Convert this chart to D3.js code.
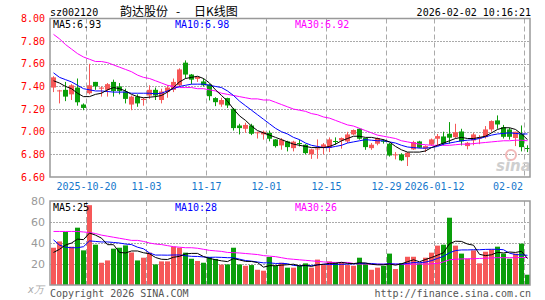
<!DOCTYPE html>
<html>
<head>
<meta charset="utf-8">
<script src="https://cdn.jsdelivr.net/npm/d3@7"></script>
<style>
  body { margin: 0; background: #fff; }
  svg { display: block; }
  text { font-family: 'DejaVu Sans Mono', monospace; font-size: 10px; }
</style>
</head>
<body>
<svg width="545" height="300"></svg>
<script>
// daily K line, 2025-10-10 .. 2026-02-02 (80 sessions)
const open = [7.39,7.36,7.37,7.33,7.39,7.24,7.34,7.44,7.38,7.37,
  7.44,7.40,7.355,7.24,7.31,7.28,7.32,7.37,7.28,7.35,
  7.37,7.41,7.61,7.505,7.467,7.444,7.417,7.297,7.24,7.297,
  7.202,7.055,7.026,7.055,6.99,6.976,6.99,6.932,6.879,6.914,
  6.855,6.90,6.885,6.80,6.848,6.858,6.858,6.918,6.923,6.914,
  6.976,7.026,6.944,6.855,6.894,6.92,6.894,6.795,6.80,6.776,
  6.844,6.914,6.85,6.885,6.938,6.958,6.982,6.952,7.002,6.873,
  6.923,6.94,6.952,7.02,7.10,7.04,7.02,6.944,6.982,6.856]
const high = [7.49,7.37,7.44,7.42,7.47,7.25,7.60,7.44,7.40,7.43,
  7.46,7.43,7.38,7.32,7.33,7.30,7.41,7.39,7.38,7.41,
  7.47,7.56,7.63,7.51,7.485,7.47,7.42,7.305,7.30,7.30,
  7.21,7.07,7.08,7.07,7.00,7.01,7.01,6.935,6.944,6.92,
  6.92,6.93,6.89,6.85,6.932,6.90,6.95,6.95,6.95,6.999,
  7.02,7.03,6.945,6.90,6.95,6.935,6.90,6.82,6.81,6.82,
  6.92,6.92,6.88,6.94,6.98,7.00,7.085,7.07,7.026,6.91,
  6.99,6.97,7.05,7.10,7.144,7.06,7.035,7.00,7.055,6.88]
const low = [7.35,7.25,7.27,7.28,7.23,7.19,7.33,7.37,7.31,7.31,
  7.31,7.33,7.25,7.19,7.22,7.23,7.29,7.28,7.25,7.30,
  7.35,7.40,7.47,7.42,7.44,7.40,7.276,7.226,7.22,7.21,
  7.01,6.976,6.99,6.97,6.94,6.93,6.915,6.86,6.841,6.826,
  6.826,6.87,6.80,6.76,6.761,6.80,6.82,6.885,6.85,6.90,
  6.97,6.93,6.84,6.84,6.88,6.895,6.78,6.756,6.74,6.697,
  6.84,6.855,6.82,6.875,6.879,6.879,6.894,6.94,6.879,6.844,
  6.88,6.89,6.94,7.00,7.026,6.94,6.93,6.873,6.826,6.82]
const close = [7.48,7.365,7.31,7.41,7.26,7.21,7.41,7.40,7.39,7.42,
  7.36,7.36,7.29,7.31,7.25,7.29,7.37,7.32,7.355,7.39,
  7.44,7.55,7.505,7.46,7.485,7.41,7.314,7.261,7.28,7.232,
  7.032,7.032,7.06,6.982,6.995,6.999,6.938,6.873,6.929,6.864,
  6.912,6.895,6.811,6.844,6.852,6.888,6.932,6.912,6.944,6.976,
  7.015,6.938,6.864,6.885,6.944,6.915,6.79,6.80,6.747,6.815,
  6.909,6.858,6.873,6.932,6.961,6.894,6.947,6.996,6.914,6.902,
  6.976,6.952,7.02,7.094,7.064,6.955,6.955,7.00,6.864,6.85]
// volume, 万手
const vol = [35.5,41.5,50.5,36.5,54.6,33,76,38.4,21.2,23.4,
  34.6,35.5,37.7,31,23.4,26,30.8,19.6,22.5,22.5,
  36.5,35.5,30.8,25,22.9,21.2,26.7,24.8,19.4,19.6,
  35.5,19.6,18.3,19,14.5,13.6,26.7,18.3,21.2,16.5,
  16.5,18.3,20.6,16.5,24.2,19,22.5,21.2,21.2,19,
  18.3,26,20.6,14.5,16.5,18.3,29.9,15.2,20.9,26.9,
  26.9,20.6,26,30.8,37.5,38.4,64.1,37.5,29.9,25,
  33,20.6,31.7,33.9,36.5,29.9,25,29.9,39.4,9.8]

// moving averages as drawn on the chart
const ma5 = [7.45,7.43,7.40,7.38,7.34,7.31,7.31,7.33,7.34,7.37,
  7.39,7.38,7.36,7.33,7.31,7.30,7.305,7.31,7.32,7.35,
  7.39,7.44,7.47,7.48,7.49,7.47,7.43,7.37,7.32,7.27,
  7.20,7.14,7.10,7.05,7.01,6.99,6.97,6.95,6.93,6.91,
  6.89,6.88,6.87,6.86,6.86,6.86,6.87,6.89,6.92,6.94,
  6.96,6.96,6.95,6.95,6.94,6.93,6.91,6.87,6.84,6.82,
  6.82,6.82,6.83,6.86,6.88,6.90,6.92,6.94,6.95,6.94,
  6.94,6.95,6.96,6.99,7.02,7.035,7.035,7.02,6.98,6.93]
const ma10 = [7.52,7.48,7.46,7.44,7.41,7.38,7.37,7.36,7.36,7.355,
  7.35,7.35,7.35,7.34,7.34,7.34,7.34,7.335,7.34,7.36,
  7.38,7.40,7.41,7.42,7.42,7.42,7.41,7.40,7.39,7.36,
  7.32,7.27,7.23,7.19,7.15,7.11,7.07,7.03,7.00,6.98,
  6.95,6.93,6.90,6.88,6.87,6.86,6.86,6.87,6.88,6.90,
  6.91,6.92,6.93,6.925,6.92,6.92,6.91,6.90,6.88,6.865,
  6.86,6.855,6.855,6.86,6.87,6.89,6.90,6.91,6.92,6.925,
  6.93,6.94,6.955,6.97,6.98,6.985,6.99,6.985,6.98,6.98]
const ma30 = [7.86,7.82,7.77,7.73,7.69,7.66,7.64,7.62,7.62,7.61,
  7.59,7.57,7.55,7.53,7.50,7.48,7.47,7.45,7.43,7.41,
  7.40,7.39,7.39,7.39,7.38,7.38,7.37,7.36,7.34,7.33,
  7.32,7.31,7.30,7.29,7.29,7.28,7.28,7.26,7.24,7.22,
  7.20,7.19,7.18,7.16,7.15,7.13,7.12,7.10,7.08,7.06,
  7.05,7.03,7.01,6.99,6.97,6.96,6.95,6.94,6.92,6.91,
  6.90,6.89,6.885,6.88,6.88,6.88,6.88,6.885,6.89,6.89,
  6.895,6.90,6.905,6.91,6.915,6.92,6.92,6.925,6.925,6.92]
const vma5 = [31,34,38,40,43.7,43.2,49.5,47.5,44.6,38.4,
  38.4,31,30.5,32.4,32.4,30.7,29.8,26.2,24.5,24.3,
  26.4,27.3,29.6,30.1,30.1,27.1,25.3,24.1,23,22.3,
  25.2,23.8,22.5,22.4,21.4,17,18.4,18.4,18.9,19.3,
  19.8,18.2,18.6,17.7,19.2,19.7,20.6,20.7,21.6,20.6,
  20.4,21.1,21,19.7,19.2,19.2,20,18.9,20.2,22.2,
  24,22.1,24.3,26.2,28.4,30.7,39.4,41.7,41.5,39,
  37.9,29.2,28,28.8,31.1,30.5,31.4,31,32.1,25.2]
const vma10 = [43,38,36,35.5,35.5,36.5,42,41.5,41,41,
  40.5,40,39,38.5,36,34.5,30.5,28.5,28.5,28.4,
  28.6,28.6,27.9,27.3,27.2,26.7,26.3,26.5,26.3,26,
  26,24.6,23.3,22.7,21.9,21.1,21.1,20.5,20.6,20.3,
  18.6,18.3,18.5,18.5,19.2,19.8,19.5,19.7,19.7,19.9,
  20.1,20.6,20.6,20.5,19.9,19.8,20.3,20,19.9,20.5,
  21.4,21.2,21.8,23.2,25.3,27.3,30.7,32.8,33.4,33.4,
  33.6,33.6,33.9,34,34,33.6,30.3,29,28.7,28.3]
const vma30 = [51,51,51,51,51,50.5,50,49,47.5,46.5,
  45.5,44.5,43.5,42.5,42.5,41.5,40,39,38.5,37.5,
  36.5,36,35.5,35.5,35,34,33,32.5,32,31,
  30.8,30.5,30,29.5,29,28,27.5,27,26,25,
  24.5,24,23.5,23,22.5,22,21.5,21.5,21.5,21.5,
  20.5,20,20,19.8,19.8,19.8,19.8,19.8,19.8,19.8,
  19.8,20,20,20.2,20.5,22,24,24.5,24.8,25,
  25,25.3,25.5,25.8,26,26,26,26,26.2,26.2]

const priceTicks = [6.6, 6.8, 7.0, 7.2, 7.4, 7.6, 7.8, 8.0]
const volTicks = [20, 40, 60, 80]
const dateIdx = [6, 16, 26, 36, 46, 56, 64, 79]
const dateLabels = ['2025-10-20', '11-03', '11-17', '12-01', '12-15', '12-29', '2026-01-12', '02-02']

const RED = '#f65858', GREEN = '#0a9e0a', GRID = '#aaa'

const svg = d3.select('svg')
const left = 50, right = 530
const pTop = 18.5, pBot = 177, vTop = 201, vBot = 285

const x = d3.scaleBand().domain(d3.range(close.length)).range([left, right])
const yP = d3.scaleLinear().domain([6.6, 8.0]).range([pBot, pTop])
const yV = d3.scaleLinear().domain([0, 80]).range([vBot, vTop])
const cx = i => x(i) + 3.5
const crisp = v => Math.round(v) + 0.5

//#region grid
svg.append('g').selectAll('line')
  .data(priceTicks.slice(1, -1))
  .join('line')
  .attr('x1', left).attr('x2', right)
  .attr('y1', d => crisp(yP(d))).attr('y2', d => crisp(yP(d)))
  .attr('stroke', GRID).attr('stroke-dasharray', '2,1')

svg.append('g').selectAll('line')
  .data(volTicks.slice(0, -1))
  .join('line')
  .attr('x1', left).attr('x2', right)
  .attr('y1', d => crisp(yV(d))).attr('y2', d => crisp(yV(d)))
  .attr('stroke', GRID).attr('stroke-dasharray', '2,1')

const vg = svg.append('g').selectAll('g').data(dateIdx).join('g')
vg.append('line')
  .attr('x1', d => x(d) + 0.5).attr('x2', d => x(d) + 0.5)
  .attr('y1', pTop).attr('y2', pBot)
  .attr('stroke', GRID).attr('stroke-dasharray', '5,3')
vg.append('line')
  .attr('x1', d => x(d) + 0.5).attr('x2', d => x(d) + 0.5)
  .attr('y1', vTop).attr('y2', vBot)
  .attr('stroke', GRID).attr('stroke-dasharray', '5,3')
//#endregion

// sina watermark
svg.append('circle').attr('cx', 511).attr('cy', 155).attr('r', 5)
  .attr('fill', 'none').attr('stroke', '#f2b8b8').attr('stroke-width', 2)
svg.append('text').attr('x', 496).attr('y', 171)
  .attr('fill', '#cfcfcf').attr('font-style', 'italic').attr('font-weight', 'bold')
  .style('font-family', 'DejaVu Sans').style('font-size', '15px').text('sina')

//#region candles
const candles = svg.append('g').selectAll('g')
  .data(close.map((c, i) => ({ i, o: open[i], h: high[i], l: low[i], c })))
  .join('g')
  .attr('fill', d => d.c >= d.o ? RED : GREEN)
  .attr('stroke', d => d.c >= d.o ? RED : GREEN)

candles.append('line')
  .attr('x1', d => cx(d.i)).attr('x2', d => cx(d.i))
  .attr('y1', d => yP(d.h)).attr('y2', d => yP(d.l))

candles.append('rect')
  .attr('stroke', 'none')
  .attr('x', d => x(d.i) + 1)
  .attr('width', x.bandwidth() - 1)
  .attr('y', d => yP(Math.max(d.o, d.c)))
  .attr('height', d => Math.max(1, Math.abs(yP(d.o) - yP(d.c))))

svg.append('g').selectAll('rect')
  .data(vol)
  .join('rect')
  .attr('x', (d, i) => x(i) + 1)
  .attr('width', x.bandwidth() - 1)
  .attr('y', d => yV(d))
  .attr('height', d => vBot - yV(d))
  .attr('fill', (d, i) => close[i] >= open[i] ? RED : GREEN)
//#endregion

//#region moving averages
const lineP = d3.line().x((d, i) => cx(i)).y(d => yP(d))
const lineV = d3.line().x((d, i) => cx(i)).y(d => yV(d))
const mas = [[ma30, vma30, '#ff00ff'], [ma10, vma10, '#0000ff'], [ma5, vma5, '#000']]
mas.forEach(([p, v, col]) => {
  svg.append('path').attr('d', lineP(p)).attr('fill', 'none').attr('stroke', col)
  svg.append('path').attr('d', lineV(v)).attr('fill', 'none').attr('stroke', col)
})
//#endregion

// frames
svg.append('rect').attr('x', left).attr('y', pTop).attr('width', right - left).attr('height', pBot - pTop)
  .attr('fill', 'none').attr('stroke', '#999').attr('stroke-width', 1.5)
svg.append('rect').attr('x', left).attr('y', vTop).attr('width', right - left).attr('height', vBot - vTop)
  .attr('fill', 'none').attr('stroke', '#999').attr('stroke-width', 1.5)

//#region labels
svg.append('g').selectAll('text')
  .data(priceTicks)
  .join('text')
  .attr('x', 45).attr('y', d => yP(d)).attr('dy', '0.35em')
  .attr('text-anchor', 'end').attr('fill', '#f00')
  .text(d => d.toFixed(2))

svg.append('g').selectAll('text')
  .data(volTicks)
  .join('text')
  .attr('x', 45).attr('y', d => yV(d)).attr('dy', '0.35em')
  .attr('text-anchor', 'end').attr('fill', '#999')
  .style('font-family', 'DejaVu Sans').style('font-size', '11px')
  .text(d => d)

svg.append('text').attr('x', 44).attr('y', 293).attr('text-anchor', 'end')
  .attr('fill', '#aaa').attr('font-style', 'italic').text('x万')

svg.append('g').selectAll('text')
  .data(dateIdx)
  .join('text')
  .attr('x', (d, i) => Math.min(x(d) + 0.5, 523 - dateLabels[i].length * 3))
  .attr('y', 190)
  .attr('text-anchor', 'middle').attr('fill', '#1677cc')
  .text((d, i) => dateLabels[i])

const n = close.length - 1
const maText = (y, vals) => {
  const fmt = y < 100 ? (v => v.toFixed(2)) : (v => Math.round(v))
  const items = [['MA5:', vals[0], '#000', 53], ['MA10:', vals[1], '#0000ff', 175], ['MA30:', vals[2], '#ff00ff', 295]]
  svg.append('g').selectAll('text').data(items).join('text')
    .attr('x', d => d[3]).attr('y', y)
    .attr('fill', d => d[2])
    .text(d => d[0] + fmt(d[1]))
}
maText(28, [ma5[n], ma10[n], ma30[n]])
maText(211, [vma5[n], vma10[n], vma30[n]])

svg.append('text').attr('x', 50).attr('y', 16).text('sz002120')
const title = svg.append('g')
  .style('font-family', "'Noto Sans CJK SC'").style('font-size', '12px')
title.append('text').attr('x', 120).attr('y', 16).style('font-size', '12px').style('font-family', "'Noto Sans CJK SC'").text('韵达股份')
title.append('text').attr('x', 176).attr('y', 16).style('font-size', '12px').style('font-family', "'Noto Sans CJK SC'").text('-')
title.append('text').attr('x', 194).attr('y', 16).style('font-size', '12px').style('font-family', "'Noto Sans CJK SC'").text('日K线图')
svg.append('text').attr('x', 531).attr('y', 16).attr('text-anchor', 'end').text('2026-02-02 10:16:21')

svg.append('text').attr('x', 50).attr('y', 297).attr('fill', '#555').text('Copyright 2026 SINA.COM')
svg.append('text').attr('x', 531).attr('y', 297).attr('text-anchor', 'end').attr('fill', '#555')
  .text('http://finance.sina.com.cn')
//#endregion
</script>
</body>
</html>
